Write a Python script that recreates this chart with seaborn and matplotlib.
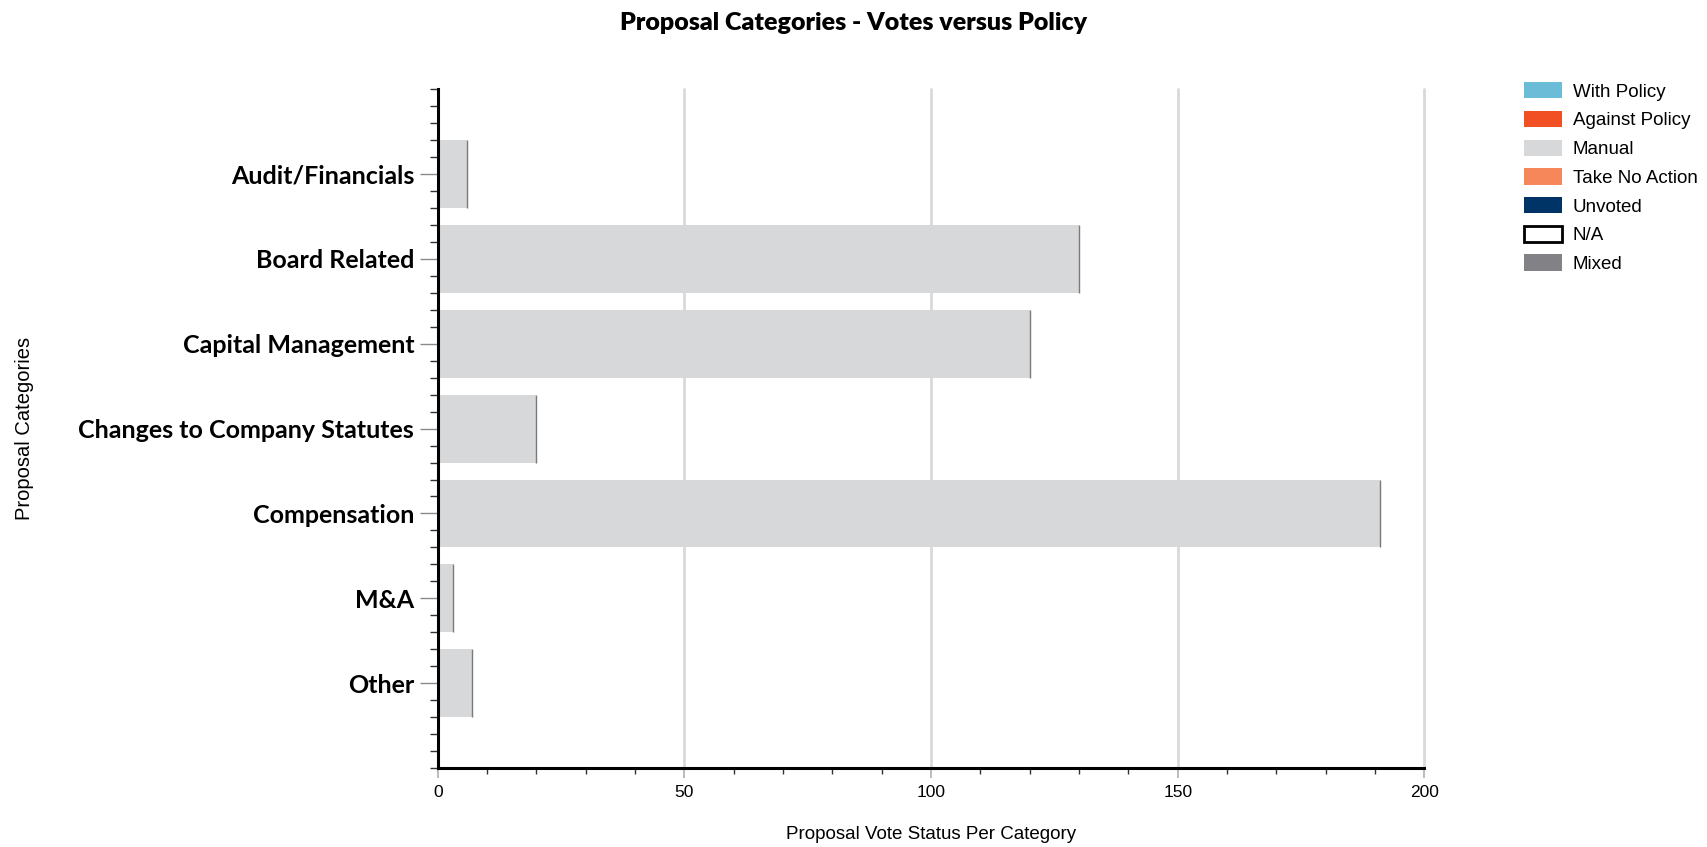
import numpy as np
import pandas as pd
import seaborn as sns
import matplotlib.pyplot as plt
from matplotlib.patches import Patch
from matplotlib.ticker import MultipleLocator, FixedLocator

categories = ["Audit/Financials", "Board Related", "Capital Management",
              "Changes to Company Statutes", "Compensation", "M&A", "Other"]
series_names = ["With Policy", "Against Policy", "Manual", "Take No Action",
                "Unvoted", "N/A", "Mixed"]
with_policy = [0, 0, 0, 0, 0, 0, 0]
against_policy = [0, 0, 0, 0, 0, 0, 0]
manual = [6, 130, 120, 20, 191, 3, 7]
take_no_action = [0, 0, 0, 0, 0, 0, 0]
unvoted = [0, 0, 0, 0, 0, 0, 0]
not_applicable = [0, 0, 0, 0, 0, 0, 0]
mixed = [0, 0, 0, 0, 0, 0, 0]
x_ticks = [0, 50, 100, 150, 200]

colors = ["#6bbcd6", "#f15025", "#d7d8da", "#f5875a", "#003366", "#ffffff", "#828286"]

df = pd.DataFrame({"category": categories, "With Policy": with_policy,
                   "Against Policy": against_policy, "Manual": manual,
                   "Take No Action": take_no_action, "Unvoted": unvoted,
                   "N/A": not_applicable, "Mixed": mixed})

sns.set_theme(style="white")
plt.rcParams["font.family"] = ["Liberation Sans", "DejaVu Sans"]
plt.rcParams["text.color"] = "black"
plt.rcParams["axes.labelcolor"] = "black"
plt.rcParams["xtick.labelcolor"] = "black"
plt.rcParams["ytick.labelcolor"] = "black"

fig = plt.figure(figsize=(17.08, 8.47), dpi=100)
ax = fig.add_axes([0.2563, 0.0933, 0.834 - 0.2563, 0.8946 - 0.0933])

left = np.zeros(len(categories))
for name, col in zip(series_names, colors):
    vals = df[name].to_numpy(dtype=float)
    if name == "Mixed":
        # zero-width segment shows as a thin line at the end of each bar
        ax.barh(np.arange(len(categories)), vals, left=left, height=0.8,
                color=col, edgecolor="#7a7a7a", linewidth=1.0, zorder=3)
    else:
        sns.barplot(x=vals, y=categories, order=categories, orient="h",
                    color=col, width=0.8, linewidth=0, left=left,
                    saturation=1, ax=ax, zorder=2)
    left = left + vals

ax.set_xlim(0, 200)
ax.set_ylim(7, -1)
ax.xaxis.set_major_locator(FixedLocator(x_ticks))
ax.xaxis.set_minor_locator(MultipleLocator(10))
ax.yaxis.set_major_locator(FixedLocator(range(len(categories))))
ax.yaxis.set_minor_locator(MultipleLocator(0.2))
ax.set_yticks(range(len(categories)))
ax.set_yticklabels(categories, family=["Lato", "DejaVu Sans"], fontweight="bold",
                   fontsize=18, color="black")
ax.set_xticklabels([str(t) for t in x_ticks], fontsize=12.5, color="black")

ax.grid(axis="x", color="#d9d9d9", linewidth=2, zorder=0)
for gl in ax.get_xgridlines():
    gl.set_clip_on(False)
ax.set_axisbelow(True)
for s in ["top", "right"]:
    ax.spines[s].set_visible(False)
for s in ["left", "bottom"]:
    ax.spines[s].set_color("black")
    ax.spines[s].set_linewidth(2.2)
    ax.spines[s].set_zorder(4)

ax.tick_params(axis="y", which="major", length=13, width=1, color="#8a8a8a",
               pad=4, left=True)
ax.tick_params(axis="y", which="minor", length=6, width=1, color="#333333", left=True)
ax.tick_params(axis="x", which="major", length=7.5, width=1.2, color="#b0b0b0",
               pad=5, bottom=True)
ax.tick_params(axis="x", which="minor", length=4.5, width=1, color="#333333", bottom=True)

ax.set_xlabel("Proposal Vote Status Per Category", fontsize=13.5, color="black")
ax.set_ylabel("Proposal Categories", fontsize=14.5, color="black")
ax.yaxis.set_label_coords(-0.409, 0.5)
ax.xaxis.set_label_coords(0.5, -0.086)

fig.suptitle("Proposal Categories - Votes versus Policy", x=0.5, y=0.986,
             fontsize=18, fontweight="heavy", color="black",
             family=["Lato", "DejaVu Sans"])

handles = []
for name, col in zip(series_names, colors):
    if name == "N/A":
        handles.append(Patch(facecolor="white", edgecolor="black", linewidth=2, label=name))
    else:
        handles.append(Patch(facecolor=col, edgecolor="none", label=name))
leg = fig.legend(handles=handles, loc="upper left", bbox_to_anchor=(0.892, 0.903),
                 frameon=False, fontsize=13.5, handlelength=2.03, handleheight=0.96,
                 labelspacing=0.54, handletextpad=0.6, borderaxespad=0, borderpad=0)
for t in leg.get_texts():
    t.set_color("black")

fig.savefig("out.png", dpi=100)
